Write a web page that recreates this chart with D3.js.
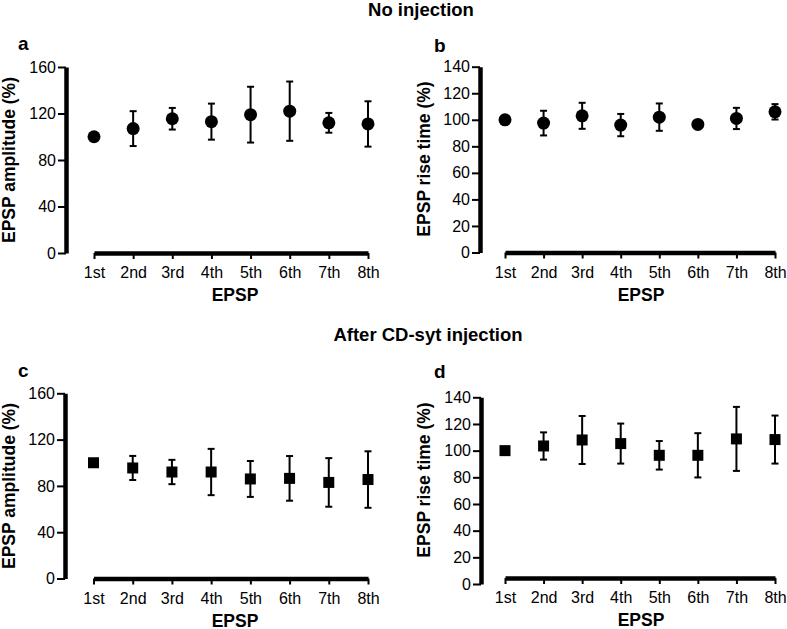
<!DOCTYPE html>
<html lang="en">
<head>
<meta charset="UTF-8">
<title>EPSP amplitude and rise time</title>
<script src="https://d3js.org/d3.v7.min.js"></script>
<style>
  body { margin: 0; background: #fff; }
  svg { font-family: Arial, "Liberation Sans", Helvetica, sans-serif; }
</style>
</head>
<body>
<svg width="787" height="629"></svg>
<script>
const categories = ['1st', '2nd', '3rd', '4th', '5th', '6th', '7th', '8th'];
const ampTicks = [0, 40, 80, 120, 160];
const riseTicks = [0, 20, 40, 60, 80, 100, 120, 140];

// No injection
const ampNoInj = [100, 107, 115.5, 113, 119, 122, 112, 111];
const ampNoInjErr = [0, 15, 9.3, 15.5, 24, 25.5, 8.5, 19.5];
const riseNoInj = [100, 97.5, 103, 96, 102, 96.5, 101, 106];
const riseNoInjErr = [0, 9.3, 9.8, 8.4, 10.3, 2, 8, 5.8];

// After CD-syt injection
const ampCD = [100, 95.5, 92, 92, 86, 86.5, 83, 85.5];
const ampCDErr = [0, 10.4, 10.5, 20, 15.5, 19.3, 21, 24.4];
const riseCD = [100, 103.5, 108, 105.3, 96.5, 96.5, 108.8, 108.3];
const riseCDErr = [0, 10.2, 18, 15, 10.7, 16.6, 24, 18];

const panels = [
  { letter: 'a', yLabel: 'EPSP amplitude (%)', mean: ampNoInj, err: ampNoInjErr, ticks: ampTicks, marker: 'circle',
    axisX: 66, xRange: [94, 368], yRange: [253, 67], xAxisY: 253, yLabelX: 15, yLabelY: 160,
    xLabelX: 235, letterX: 18, letterY: 50 },
  { letter: 'b', yLabel: 'EPSP rise time (%)', mean: riseNoInj, err: riseNoInjErr, ticks: riseTicks, marker: 'circle',
    axisX: 480, xRange: [505, 775], yRange: [252.5, 66.7], xAxisY: 252.5, yLabelX: 430, yLabelY: 159,
    xLabelX: 641, letterX: 434, letterY: 52 },
  { letter: 'c', yLabel: 'EPSP amplitude (%)', mean: ampCD, err: ampCDErr, ticks: ampTicks, marker: 'square',
    axisX: 65, xRange: [93.5, 368], yRange: [578.5, 393.3], xAxisY: 578.5, yLabelX: 15, yLabelY: 486,
    xLabelX: 235, letterX: 18, letterY: 377 },
  { letter: 'd', yLabel: 'EPSP rise time (%)', mean: riseCD, err: riseCDErr, ticks: riseTicks, marker: 'square',
    axisX: 481, xRange: [505, 775], yRange: [584, 397.3], xAxisY: 578, yLabelX: 430, yLabelY: 480,
    xLabelX: 641, letterX: 434, letterY: 378 }
];

const svg = d3.select('svg');

svg.append('text').attr('x', 421).attr('y', 16).attr('text-anchor', 'middle')
  .attr('font-size', 18.5).attr('font-weight', 'bold').text('No injection');
svg.append('text').attr('x', 428).attr('y', 341).attr('text-anchor', 'middle')
  .attr('font-size', 18.5).attr('font-weight', 'bold').text('After CD-syt injection');

panels.forEach(p => {
  const x = d3.scalePoint().domain(categories).range(p.xRange);
  const y = d3.scaleLinear().domain([0, d3.max(p.ticks)]).range(p.yRange);
  const g = svg.append('g');

  // y axis
  const yAxisG = g.append('g').attr('transform', `translate(${p.axisX},0)`)
    .call(d3.axisLeft(y).tickValues(p.ticks).tickSize(8).tickSizeOuter(0).tickPadding(2));
  // x axis
  const xAxisG = g.append('g').attr('transform', `translate(0,${p.xAxisY})`)
    .call(d3.axisBottom(x).tickSize(6).tickSizeOuter(0).tickPadding(8));

  [yAxisG, xAxisG].forEach(a => {
    a.select('.domain').attr('stroke', '#000').attr('stroke-width', 4.5);
    a.selectAll('.tick line').attr('stroke', '#000').attr('stroke-width', 2);
    a.selectAll('.tick text').attr('fill', '#000').attr('font-size', 16)
      .attr('font-family', 'Arial, "Liberation Sans", sans-serif');
  });

  const pts = categories.map((c, i) => ({ c, m: p.mean[i], e: p.err[i] }));

  // error bars
  const eb = g.append('g').attr('stroke', '#000').attr('stroke-width', 2);
  pts.filter(d => d.e > 0).forEach(d => {
    const cx = x(d.c);
    eb.append('line').attr('x1', cx).attr('x2', cx).attr('y1', y(d.m - d.e)).attr('y2', y(d.m + d.e));
    eb.append('line').attr('x1', cx - 3.5).attr('x2', cx + 3.5).attr('y1', y(d.m + d.e)).attr('y2', y(d.m + d.e));
    eb.append('line').attr('x1', cx - 3.5).attr('x2', cx + 3.5).attr('y1', y(d.m - d.e)).attr('y2', y(d.m - d.e));
  });

  // markers
  if (p.marker === 'circle') {
    g.selectAll('circle.pt').data(pts).join('circle').attr('class', 'pt')
      .attr('cx', d => x(d.c)).attr('cy', d => y(d.m)).attr('r', 6.5).attr('fill', '#000');
  } else {
    g.selectAll('rect.pt').data(pts).join('rect').attr('class', 'pt')
      .attr('x', d => x(d.c) - 5.5).attr('y', d => y(d.m) - 5.5)
      .attr('width', 11).attr('height', 11).attr('fill', '#000');
  }

  // labels
  g.append('text').attr('transform', `translate(${p.yLabelX},${p.yLabelY}) rotate(-90)`)
    .attr('text-anchor', 'middle').attr('font-size', 17.5).attr('font-weight', 'bold').text(p.yLabel);
  g.append('text').attr('x', p.xLabelX).attr('y', p.xAxisY + 48).attr('text-anchor', 'middle')
    .attr('font-size', 17.5).attr('font-weight', 'bold').text('EPSP');
  g.append('text').attr('x', p.letterX).attr('y', p.letterY)
    .attr('font-size', 19).attr('font-weight', 'bold').text(p.letter);
});
</script>
</body>
</html>
